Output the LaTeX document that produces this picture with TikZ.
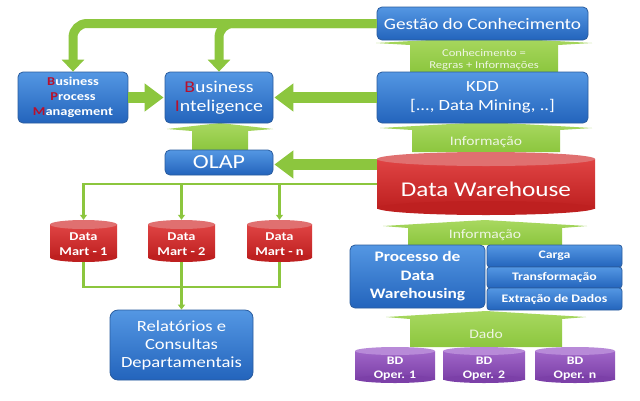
\documentclass[tikz,border=0pt]{standalone}
\usepackage{fontspec}
\setmainfont{Carlito}[FakeStretch=1.2]
\usetikzlibrary{arrows.meta,calc}
\definecolor{gr}{HTML}{8CC63E}
\definecolor{grd}{HTML}{78B02C}
\definecolor{grl}{HTML}{A8D860}
\definecolor{grtext}{HTML}{EEF5E2}
\definecolor{bltop}{HTML}{5497E3}
\definecolor{blbot}{HTML}{2364BC}
\definecolor{bldraw}{HTML}{2A5C9E}
\definecolor{bpred}{HTML}{B8102C}
\definecolor{rdtop}{HTML}{E07070}
\definecolor{rdbodyt}{HTML}{E04444}
\definecolor{rdbodyb}{HTML}{BE2020}
\definecolor{pptop}{HTML}{B88AD8}
\definecolor{ppbodyt}{HTML}{A066C8}
\definecolor{ppbodyb}{HTML}{7C40A8}
\newcommand\fsz[2]{\fontsize{#1}{#2}\selectfont}
\newcommand\cylshape[6]{% cx, cy, w, h, prefix, ry
  \shade[top color=#5bodyt, bottom color=#5bodyb] ({#1-#3/2},{#2-#4/2+#6}) rectangle ({#1+#3/2},{#2+#4/2-#6});
  \fill[#5bodyb] (#1,{#2+#4/2-#6}) ellipse[x radius=#3/2, y radius=#6];
  \fill[#5top] (#1,{#2-#4/2+#6}) ellipse[x radius=#3/2, y radius=#6];
}
\newcommand\blockup[6]{% cx, ypeak, ybottom, shaft half, head half, name
  \shade[top color=grl, bottom color=gr] ({#1-#5},{#2+6}) -- (#1,#2) -- ({#1+#5},{#2+6}) -- ({#1+#4},{#2+8}) -- ({#1+#4},#3) -- ({#1-#4},#3) -- ({#1-#4},{#2+8}) -- cycle;
  \coordinate (#6) at (#1,{(#2+8+#3)/2});
}
\tikzset{
  bbox/.style={draw=bldraw, line width=0.8pt, rounded corners=5pt, top color=bltop, bottom color=blbot, text=white, align=center, inner sep=0pt},
  cylarea/.style={inner sep=0pt},
  cyltext/.style={text=white, align=center, inner sep=0pt, font=\bfseries},
  bigar/.style={gr, line width=11pt, -{Triangle[width=27pt,length=19pt]}},
  topar/.style={gr, line width=9pt, rounded corners=14pt, -{Triangle[width=22pt,length=12pt]}},
  thinl/.style={gr, line width=2.4pt},
  thinar/.style={gr, line width=2.4pt, -{Triangle[width=7pt,length=5pt]}},
  artext/.style={text=grtext, align=center, inner sep=0pt},
}
\begin{document}
\begin{tikzpicture}[x=1pt,y=-1pt]
\useasboundingbox (0,0) rectangle (640,400);
\fill[white] (0,0) rectangle (640,400);

% block up arrows (green)
\blockup{484}{37}{72}{74}{108}{a1}
\blockup{486}{122}{152}{74}{106}{a2}
\blockup{220}{123}{150}{28}{53}{a3}
\blockup{485}{220}{245}{77}{102}{a4}
\blockup{486}{311}{347}{76}{100}{a5}
\node[artext, font=\fsz{10.5}{12}] (t1) at ($(a1)+(0,1)$) {Conhecimento =\\Regras + Informações};
\node[artext, font=\fsz{13}{15}] (t2) at ($(a2)+(0,1)$) {Informação};
\node[artext, font=\fsz{13}{15}] (t4) at ($(a4)+(0,-1)$) {Informação};
\node[artext, font=\fsz{13}{15}] (t5) at ($(a5)+(0,1)$) {Dado};

% blue boxes
\node[bbox, minimum width=211pt, minimum height=33pt, font=\fsz{16}{19}] (ges) at (482.5,23.5) {Gestão do Conhecimento};
\node[bbox, minimum width=211pt, minimum height=51pt, font=\fsz{15.5}{18.5}] (kdd) at (482.5,97.5) {KDD\\{}[..., Data Mining, ..]};
\node[bbox, minimum width=110pt, minimum height=51pt, font=\bfseries\fsz{12}{15}] (bpm) at (73,97.5) {{\color{bpred}B}usiness\\{\color{bpred}P}rocess\\{\color{bpred}M}anagement};
\node[bbox, minimum width=108pt, minimum height=51pt, font=\fsz{16.5}{19}] (bi) at (219,97.5) {{\color{bpred}B}usiness\\{\color{bpred}I}nteligence};
\node[bbox, minimum width=108pt, minimum height=25pt, font=\fsz{20}{24}] (olap) at (219,162.5) {OLAP};
\node[bbox, minimum width=135pt, minimum height=63pt, font=\bfseries\fsz{14.5}{18.5}] (proc) at (417.5,276.5) {Processo de\\Data\\Warehousing};
\node[bbox, rounded corners=3pt, minimum width=135pt, minimum height=22pt, font=\bfseries\fsz{11.5}{14}] (carga) at (554.5,256) {Carga};
\node[bbox, rounded corners=3pt, minimum width=135pt, minimum height=21pt, font=\bfseries\fsz{11.5}{14}] (transf) at (554.5,277.5) {Transformação};
\node[bbox, rounded corners=3pt, minimum width=135pt, minimum height=22pt, font=\bfseries\fsz{11.5}{14}] (extr) at (554.5,299) {Extração de Dados};
\node[bbox, rounded corners=8pt, minimum width=143pt, minimum height=70pt, font=\fsz{15.5}{18}] (rel) at (181.5,345) {Relatórios e\\Consultas\\Departamentais};

% cylinders
\cylshape{486}{183.5}{218}{63}{rd}{7}
\node[cylarea, minimum width=218pt, minimum height=63pt] (dw) at (486,183.5) {};
\node[cyltext, font=\mdseries\fsz{21}{25}] (dwt) at (486,189) {Data Warehouse};
\cylshape{83.5}{241}{67}{42}{rd}{4.5}
\cylshape{181.5}{241}{67}{42}{rd}{4.5}
\cylshape{279.5}{241}{65}{42}{rd}{4.5}
\node[cylarea, minimum width=67pt, minimum height=42pt] (dm1) at (83.5,241) {};
\node[cylarea, minimum width=67pt, minimum height=42pt] (dm2) at (181.5,241) {};
\node[cylarea, minimum width=65pt, minimum height=42pt] (dmn) at (279.5,241) {};
\node[cyltext, font=\bfseries\fsz{12}{15}] (dm1t) at (83.5,244.5) {Data\\Mart - 1};
\node[cyltext, font=\bfseries\fsz{12}{15}] (dm2t) at (181.5,244.5) {Data\\Mart - 2};
\node[cyltext, font=\bfseries\fsz{12}{15}] (dmnt) at (279.5,244.5) {Data\\Mart - n};
\cylshape{395}{365}{80}{36}{pp}{4}
\cylshape{484}{365}{82}{36}{pp}{4}
\cylshape{575}{365}{80}{36}{pp}{4}
\node[cyltext, font=\bfseries\fsz{11.5}{14.5}] (bd1) at (395,368.5) {BD\\Oper. 1};
\node[cyltext, font=\bfseries\fsz{11.5}{14.5}] (bd2) at (484,368.5) {BD\\Oper. 2};
\node[cyltext, font=\bfseries\fsz{11.5}{14.5}] (bdn) at (575,368.5) {BD\\Oper. n};

% big arrows
\draw[topar] (ges.west) -| (bpm.north);
\draw[topar] (ges.west) -| (bi.north);
\draw[bigar, shorten >=1pt] (bpm.east) -- (bi.west);
\draw[bigar, shorten >=1pt] (kdd.west) -- (bi.east);
\coordinate (dwo) at (377,164.5);
\draw[bigar, shorten >=1pt] (dwo) -- (olap.east |- dwo);

% thin connectors
\coordinate (dwl) at (377,184);
\draw[thinar] (dwl) -| (dm1.north);
\draw[thinar] (dm2.north |- dwl) -- (dm2.north);
\draw[thinar] (dmn.north |- dwl) -- (dmn.north);
\coordinate (j) at (181.5,287);
\draw[thinl] (dm1.south) |- (j) -| (dmn.south);
\draw[thinl] (dm2.south) -- (j);
\draw[thinar] (j) -- (rel.north);
\end{tikzpicture}
\end{document}
